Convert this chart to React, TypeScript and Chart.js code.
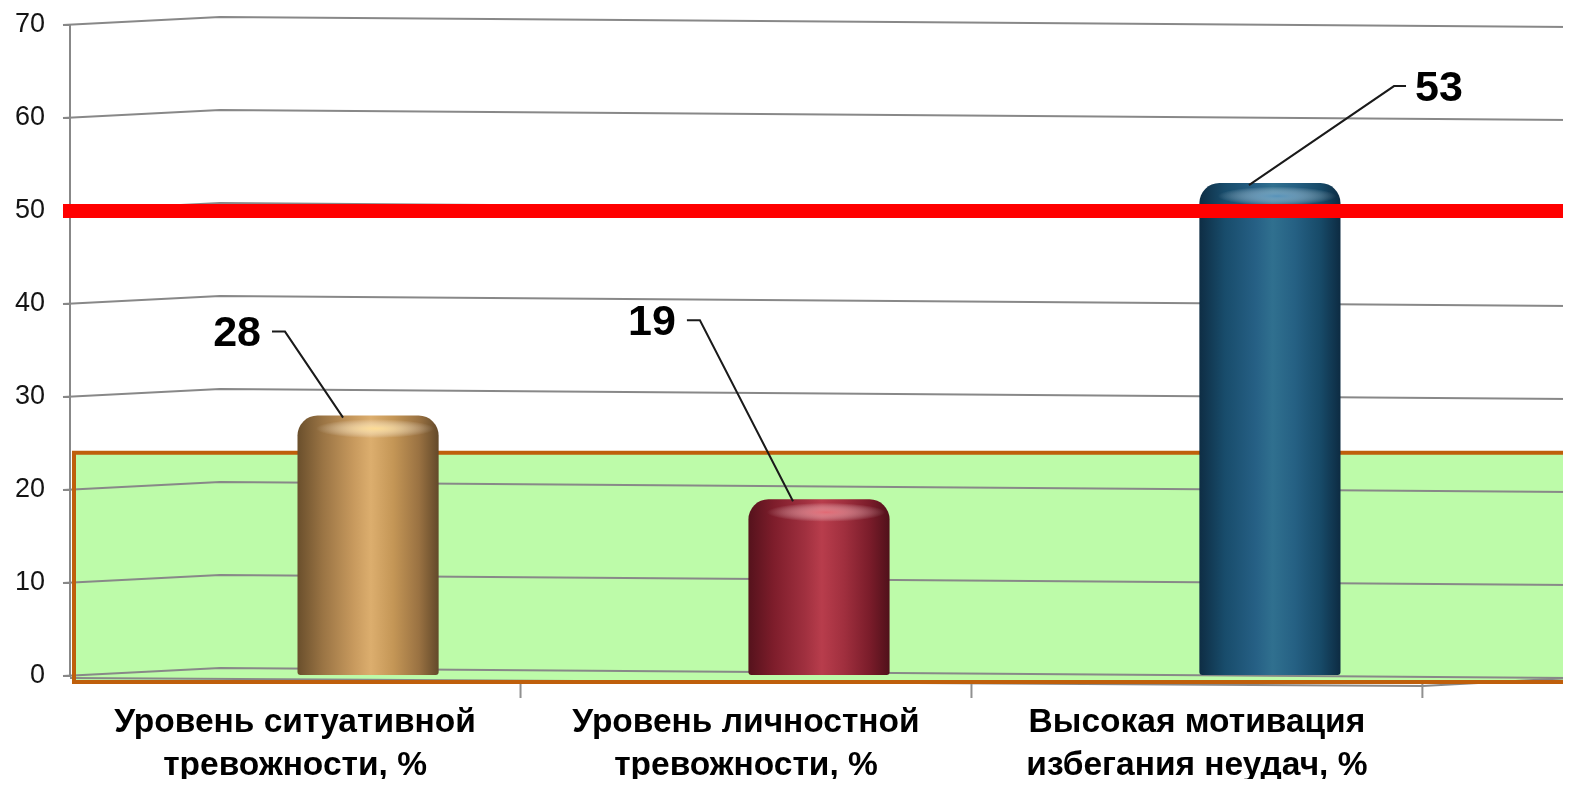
import React, { useEffect, useRef } from 'react';
import { Chart, registerables } from 'chart.js';

Chart.register(...registerables);

// ---- data ----
const categories: string[][] = [
  ['Уровень ситуативной', 'тревожности, %'],
  ['Уровень личностной', 'тревожности, %'],
  ['Высокая мотивация', 'избегания неудач, %'],
];
const values: number[] = [28, 19, 53];
const yTickValues: number[] = [0, 10, 20, 30, 40, 50, 60, 70];
const thresholdValue = 50;
const normBandMin = 0;
const normBandMax = 24;

// ---- styles ----
const barStops: string[][] = [
  ['#6a4f2c', '#9a7444', '#c89a5e', '#dcae6e', '#c49656', '#9a7242', '#63492a'],
  ['#55121c', '#7e1d2b', '#a0303f', '#b83d4c', '#a02f3e', '#7a1c2a', '#50111a'],
  ['#0e2d44', '#184c6b', '#266085', '#30708f', '#256083', '#174a68', '#0d2b42'],
];
const capHighlight: string[] = ['rgba(255,222,150,0.95)', 'rgba(230,110,120,0.9)', 'rgba(90,150,190,0.9)'];
// label placement relative to bar centre / top, and leader anchor offset
const labelOffsets: number[][] = [[-131, -83], [-167, -178], [169, -96]];
const anchorOffsets: number[] = [-25, -26, -21];

const BAR_PCT = 0.313;
const LABEL_SHIFT = -73;
const FONT = '"Liberation Sans", Arial, sans-serif';

function gradientFor(chart: any, index: number) {
  const xs = chart.scales?.x;
  const stops = barStops[index % barStops.length];
  if (!xs) return stops[3];
  const cx = xs.getPixelForValue(index);
  const w = (xs.getPixelForValue(1) - xs.getPixelForValue(0)) * BAR_PCT;
  if (!isFinite(cx) || !isFinite(w) || w <= 0) return stops[3];
  const g = chart.ctx.createLinearGradient(cx - w / 2, 0, cx + w / 2, 0);
  const pos = [0, 0.18, 0.4, 0.52, 0.68, 0.86, 1];
  stops.forEach((c, i) => g.addColorStop(pos[i], c));
  return g;
}

const backgroundPlugin = {
  id: 'background3d',
  beforeDatasetsDraw(chart: any) {
    const { ctx, chartArea, scales } = chart;
    const ys = scales.y;
    const xs = scales.x;
    const left = chartArea.left;
    const right = chart.width;
    const y0 = ys.getPixelForValue(0);
    ctx.save();
    // norm band
    const bTop = ys.getPixelForValue(normBandMax);
    const bBot = ys.getPixelForValue(normBandMin) + 6;
    ctx.fillStyle = '#bdfba9';
    ctx.fillRect(left + 4, bTop, right - left, bBot - bTop);
    // grid lines (3D perspective look)
    ctx.strokeStyle = '#888888';
    ctx.lineWidth = 2;
    yTickValues.forEach((v) => {
      const y = ys.getPixelForValue(v);
      ctx.beginPath();
      ctx.moveTo(left - 7, y);
      ctx.lineTo(left + 150, y - 8);
      ctx.lineTo(right, y + 2);
      ctx.stroke();
    });
    // floor front edge
    const edgeX = xs.getPixelForValue(values.length - 0.5) + LABEL_SHIFT;
    ctx.beginPath();
    ctx.moveTo(left, y0 + 2);
    ctx.lineTo(edgeX, y0 + 10);
    ctx.lineTo(right, y0 + 2);
    ctx.stroke();
    // band border
    ctx.strokeStyle = '#bf5f0b';
    ctx.lineWidth = 4;
    ctx.beginPath();
    ctx.moveTo(right + 5, bTop);
    ctx.lineTo(left + 4, bTop);
    ctx.lineTo(left + 4, bBot);
    ctx.lineTo(right + 5, bBot);
    ctx.stroke();
    // category separators
    ctx.strokeStyle = '#909090';
    ctx.lineWidth = 2;
    for (let i = 0; i < values.length; i++) {
      const x = xs.getPixelForValue(i + 0.5) + LABEL_SHIFT;
      ctx.beginPath();
      ctx.moveTo(x, y0 + 8);
      ctx.lineTo(x, y0 + 22);
      ctx.stroke();
    }
    ctx.restore();
  },
  afterDatasetsDraw(chart: any) {
    const { ctx, chartArea, scales } = chart;
    const ys = scales.y;
    const meta = chart.getDatasetMeta(0);
    ctx.save();
    // cap highlights
    meta.data.forEach((el: any, i: number) => {
      const w = el.width;
      const cy = el.y + 13;
      const g = ctx.createRadialGradient(el.x + w * 0.05, cy, 0, el.x + w * 0.05, cy, w * 0.42);
      g.addColorStop(0, capHighlight[i]);
      g.addColorStop(1, 'rgba(255,255,255,0)');
      ctx.save();
      ctx.translate(0, cy);
      ctx.scale(1, 0.16);
      ctx.translate(0, -cy);
      ctx.fillStyle = g;
      ctx.beginPath();
      ctx.arc(el.x + w * 0.05, cy, w * 0.42, 0, Math.PI * 2);
      ctx.fill();
      ctx.restore();
    });
    // threshold line
    const ty = ys.getPixelForValue(thresholdValue);
    ctx.strokeStyle = '#ff0000';
    ctx.lineWidth = 14;
    ctx.beginPath();
    ctx.moveTo(chartArea.left - 7, ty);
    ctx.lineTo(chart.width, ty);
    ctx.stroke();
    // data labels with leader lines
    ctx.font = `bold 43px ${FONT}`;
    ctx.textBaseline = 'middle';
    ctx.fillStyle = '#000';
    ctx.strokeStyle = '#1a1a1a';
    ctx.lineWidth = 2;
    meta.data.forEach((el: any, i: number) => {
      const [dx, dy] = labelOffsets[i];
      const lx = el.x + dx;
      const ly = el.y + dy;
      const text = String(values[i]);
      const tw = ctx.measureText(text).width;
      ctx.textAlign = 'center';
      ctx.fillText(text, lx, ly + 2);
      const ax = el.x + anchorOffsets[i];
      const ay = el.y + 2;
      const sy = ly - 1;
      let s1: number, s2: number;
      if (dx < 0) {
        s1 = lx + tw / 2 + 11;
        s2 = s1 + 13;
      } else {
        s1 = lx - tw / 2 - 9;
        s2 = s1 - 12;
      }
      ctx.beginPath();
      ctx.moveTo(s1, sy);
      ctx.lineTo(s2, sy);
      ctx.lineTo(ax, ay);
      ctx.stroke();
    });
    ctx.restore();
  },
};

export default function App() {
  const ref = useRef<HTMLCanvasElement | null>(null);
  useEffect(() => {
    if (!ref.current) return;
    const chart = new Chart(ref.current, {
      type: 'bar',
      data: {
        datasets: [
          {
            data: values.map((v, i) => ({ x: i, y: v })),
            backgroundColor: (c: any) => gradientFor(c.chart, c.dataIndex ?? 0),
            borderWidth: 0,
            borderRadius: { topLeft: 20, topRight: 20, bottomLeft: 3, bottomRight: 3 },
            borderSkipped: false,
            barPercentage: BAR_PCT,
            categoryPercentage: 1,
          } as any,
        ],
      },
      options: {
        animation: false,
        responsive: false,
        maintainAspectRatio: false,
        layout: { padding: { top: 25, right: 3, left: 0, bottom: 0 } },
        plugins: { legend: { display: false }, tooltip: { enabled: false } },
        scales: {
          x: {
            type: 'linear',
            offset: false,
            min: -0.661,
            max: 2.661,
            grid: { display: false, offset: false },
            border: { display: false },
            afterBuildTicks: (s: any) => {
              s.ticks = categories.map((_, i) => ({ value: i }));
            },
            afterFit: (s: any) => {
              s.height = 111;
              s.paddingLeft = 0;
              s.paddingRight = 0;
            },
            ticks: {
              autoSkip: false,
              maxRotation: 0,
              minRotation: 0,
              labelOffset: LABEL_SHIFT,
              padding: 18,
              color: '#000',
              font: { family: FONT, size: 33.5, weight: 'bold', lineHeight: 1.26 },
              callback: (v: any) => categories[Math.round(Number(v))] ?? '',
            },
          },
          y: {
            min: 0,
            max: 70,
            afterBuildTicks: (s: any) => {
              s.ticks = yTickValues.map((v) => ({ value: v }));
            },
            afterFit: (s: any) => {
              s.width = 70;
              s.paddingTop = 0;
              s.paddingBottom = 0;
            },
            grid: { display: true, drawOnChartArea: false, drawTicks: true, tickLength: 7, color: '#888888', lineWidth: 2 },
            border: { display: true, color: '#888888', width: 2 },
            ticks: {
              padding: 18,
              color: '#141414',
              font: { family: FONT, size: 27 },
            },
          },
        },
      } as any,
      plugins: [backgroundPlugin],
    });
    return () => chart.destroy();
  }, []);
  return (
    <div style={{ width: 1571, height: 787, margin: -8, overflow: 'hidden', background: '#fff' }}>
      <canvas ref={ref} width={1571} height={787} style={{ display: 'block', width: 1571, height: 787 }} />
    </div>
  );
}
